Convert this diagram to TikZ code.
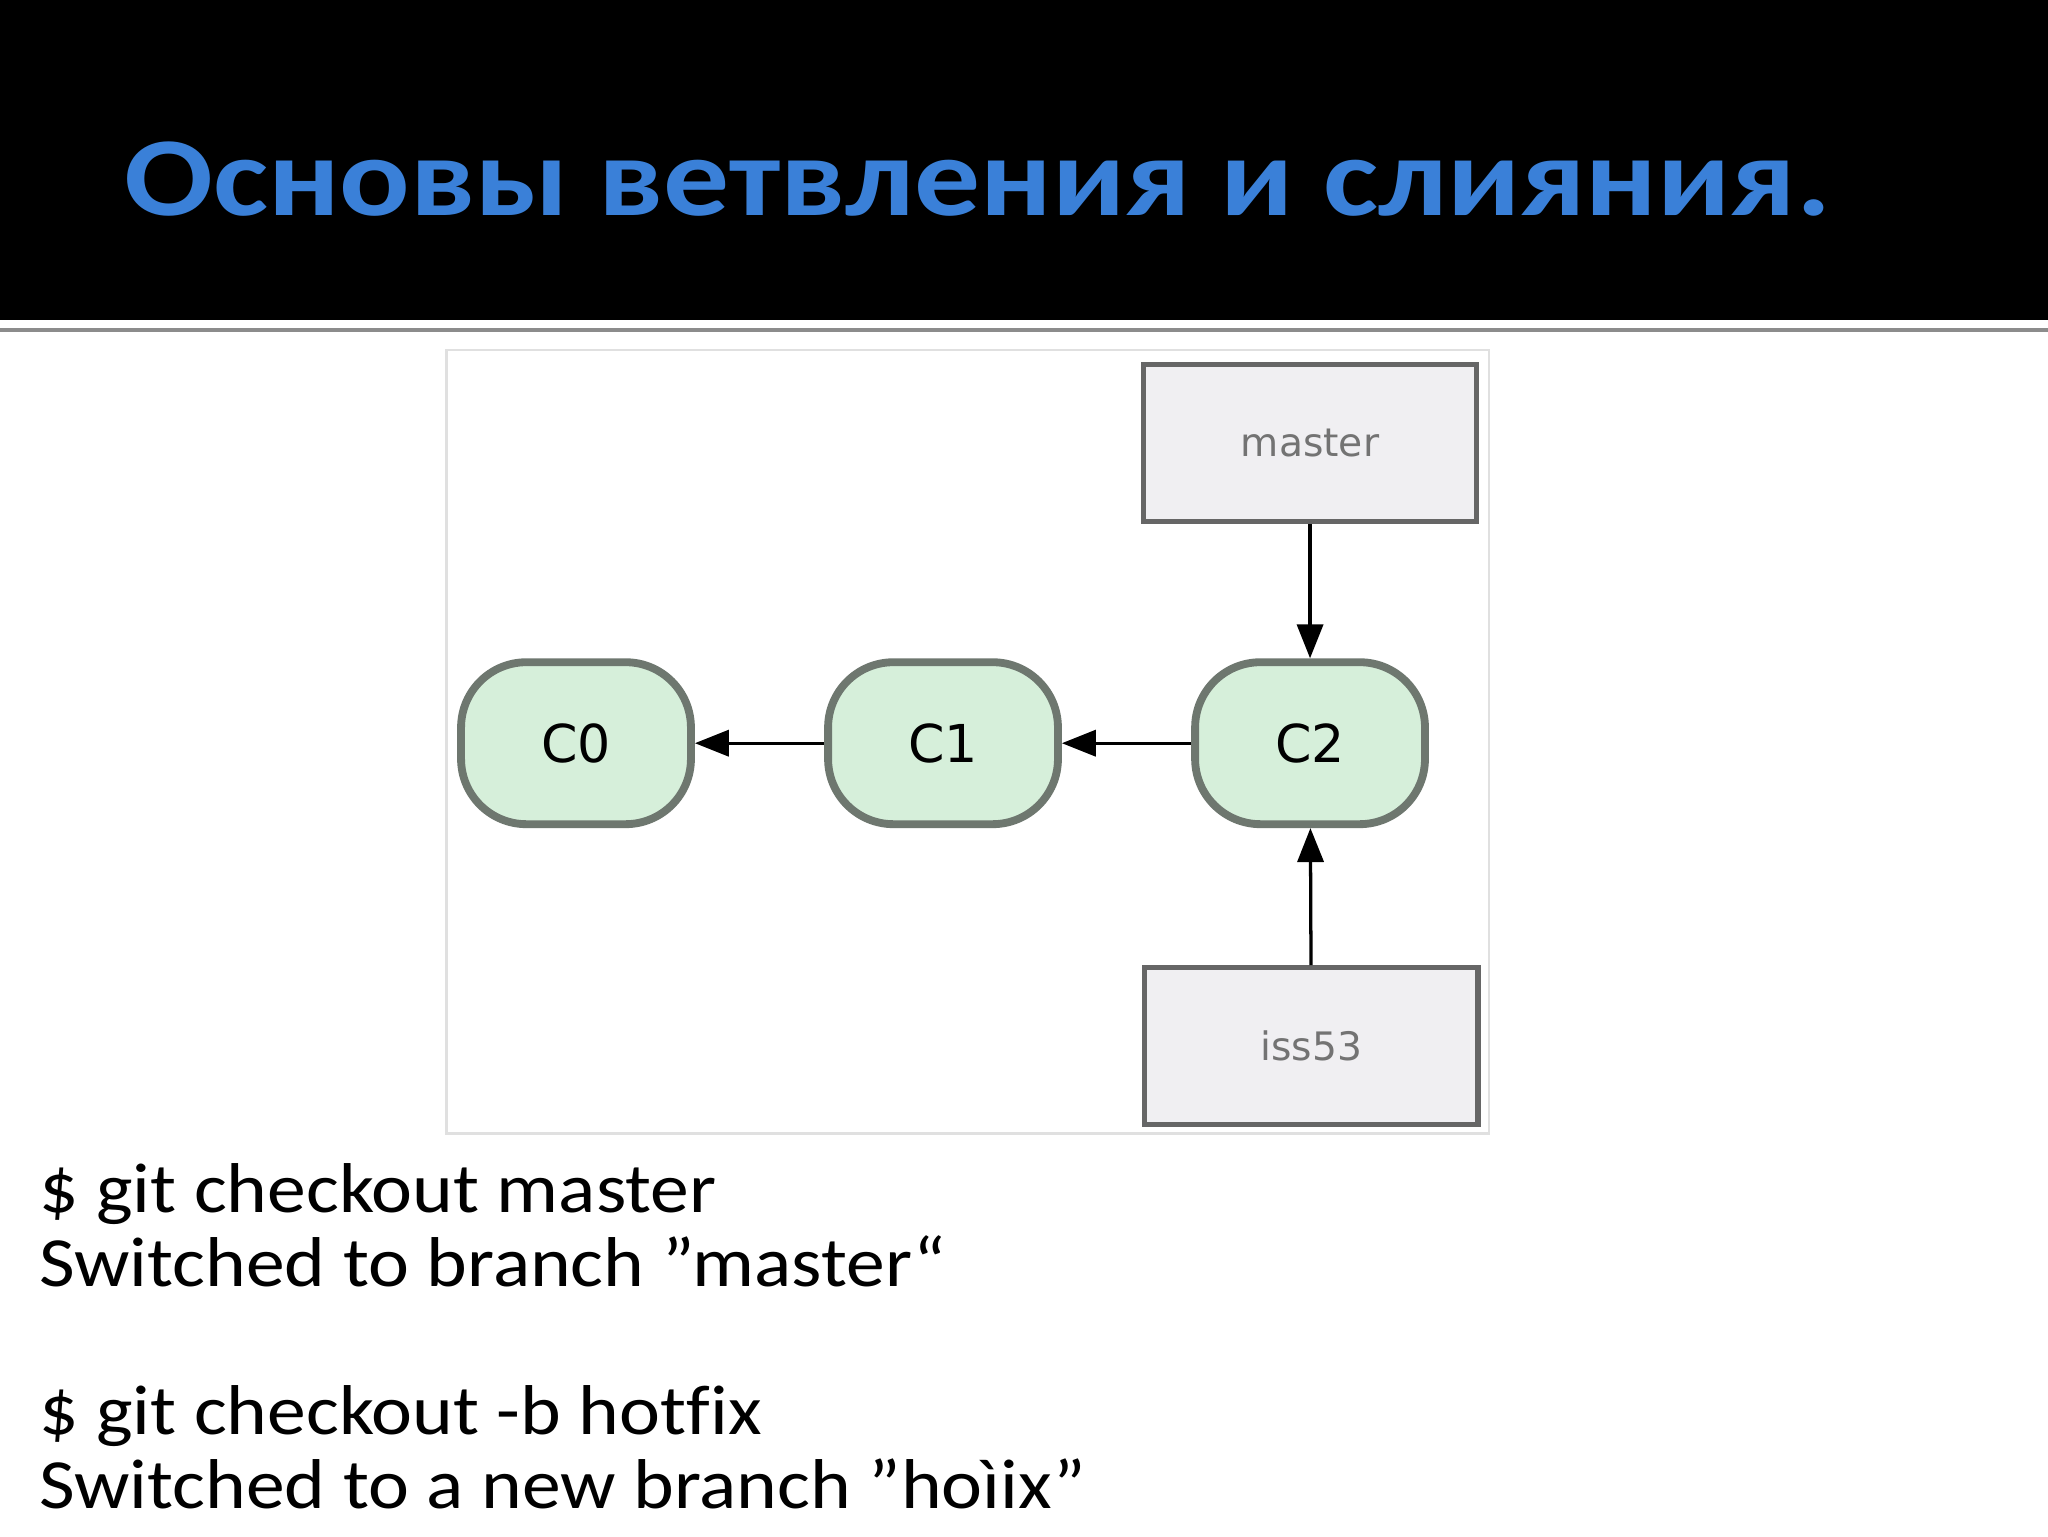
\documentclass[tikz,border=0pt]{standalone}
\usepackage{fontspec}
\setmainfont{Carlito}[Ligatures=NoCommon]
\newfontfamily\dvs{DejaVu Sans}
\usetikzlibrary{arrows.meta}
\definecolor{titleblue}{HTML}{3A80D8}
\definecolor{boxfill}{HTML}{F0EFF2}
\definecolor{cfill}{HTML}{D6EFDA}
\definecolor{cline}{HTML}{6E776F}
\tikzset{
 refbox/.style={draw=black!60,line width=4pt,fill=boxfill,minimum width=255pt,minimum height=120pt,font=\dvs\fontsize{30}{36}\selectfont,text=black!55},
 commit/.style={draw=cline,line width=6pt,fill=cfill,rounded corners=50pt,minimum width=176pt,minimum height=124pt,font=\dvs\fontsize{40}{48}\selectfont},
 conn/.style={line width=2.5pt,-{Triangle[length=26pt,width=20pt]}},
 cmd/.style={anchor=base west,font=\fontsize{54}{60}\selectfont,inner sep=0pt,xscale=1.1}
}
\begin{document}
\begin{tikzpicture}[x=1pt,y=-1pt]
\useasboundingbox (0,0) rectangle (1568,1176);
\fill[white] (0,0) rectangle (1568,1176);
\fill[black] (0,0) rectangle (1568,245);
\draw[black!45,line width=3pt] (0,253) -- (1568,253);
\node[anchor=base west,text=titleblue,font=\bfseries\fontsize{86}{90}\selectfont,inner sep=0pt,xscale=1.17] (title) at (95,165) {Основы ветвления и слияния.};
\draw[black!12,line width=2pt,fill=white] (342,268) rectangle (1140,868);
\node[refbox] (master) at (1003,339) {master};
\node[refbox] (iss) at (1004,801) {iss53};
\node[commit] (c0) at (441,569) {C0};
\node[commit] (c1) at (722,569) {C1};
\node[commit] (c2) at (1003,569) {C2};
\draw[conn] (c1) -- (c0);
\draw[conn] (c2) -- (c1);
\draw[conn] (master) -- (c2);
\draw[conn] (iss) -- (c2);
\node[cmd] (l1) at (30,928) {\$ git checkout master};
\node[cmd] (l2) at (30,985) {Switched to branch \symbol{34}master“};
\node[cmd] (l3) at (30,1098) {\$ git checkout -b hotfix};
\node[cmd] (l4) at (30,1155) {Switched to a new branch \symbol{34}hoìix\symbol{34}};
\end{tikzpicture}
\end{document}
